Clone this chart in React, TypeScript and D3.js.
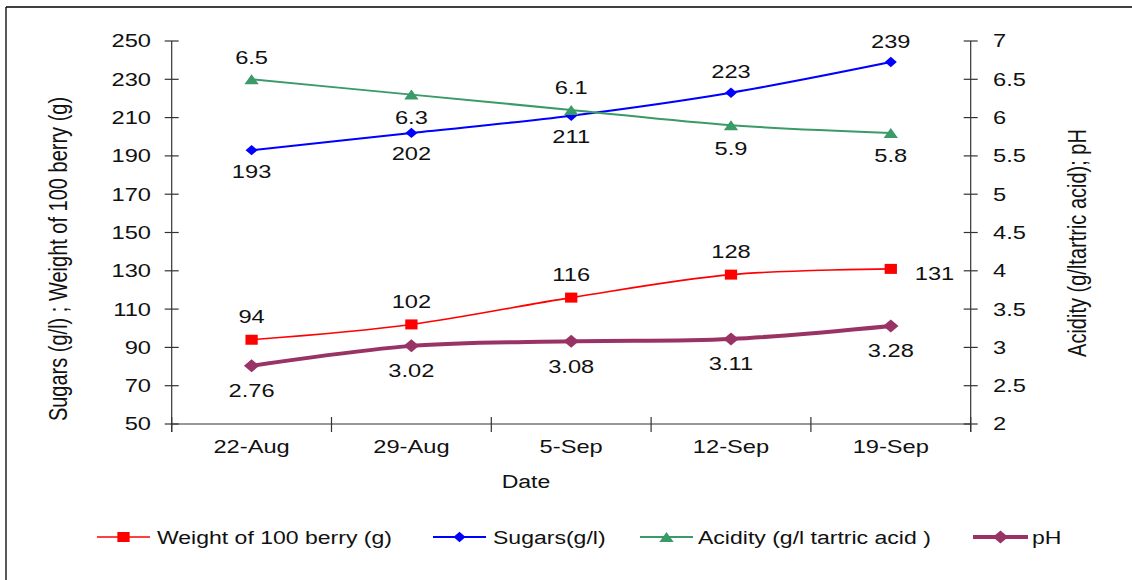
import React from "react";
import * as d3 from "d3";

// Sampling dates and measured values
const dates = ["22-Aug", "29-Aug", "5-Sep", "12-Sep", "19-Sep"];
const berryWeight = [94, 102, 116, 128, 131];
const sugars = [193, 202, 211, 223, 239];
const acidity = [6.5, 6.3, 6.1, 5.9, 5.8];
const ph = [2.76, 3.02, 3.08, 3.11, 3.28];

// Axis ticks
const leftTicks = [50, 70, 90, 110, 130, 150, 170, 190, 210, 230, 250];
const rightTicks = [2, 2.5, 3, 3.5, 4, 4.5, 5, 5.5, 6, 6.5, 7];

// Where each value label sits relative to its marker
const berryLabelPos = ["above", "above", "above", "above", "right"];
const sugarsLabelPos = ["below", "below", "below", "above", "above"];
const acidityLabelPos = ["above", "below", "above", "below", "below"];
const phLabelPos = ["below", "below", "below", "below", "below"];

const W = 1132;
const H = 580;
// horizontal stretch applied to the whole drawing
const SX = 1.28;
const VW = W / SX;
const px = (x: number) => x / SX;

const FONT = "'Liberation Sans', Arial, Helvetica, sans-serif";
const AXIS = "#333";

type Shape = "square" | "diamond" | "bigDiamond" | "triangle";

function markerPath(shape: Shape): string {
  switch (shape) {
    case "square":
      return "M-4.8,-5L4.8,-5L4.8,5L-4.8,5Z";
    case "diamond":
      return "M0,-5.2L4.7,0L0,5.2L-4.7,0Z";
    case "bigDiamond":
      return "M0,-6.5L6,0L0,6.5L-6,0Z";
    case "triangle":
      return "M0,-5L5.6,5L-5.6,5Z";
  }
}

interface Series {
  name: string;
  values: number[];
  axis: "left" | "right";
  color: string;
  width: number;
  shape: Shape;
  fmt: (v: number) => string;
  labelPos: string[];
  above: number;
  below: number;
}

const series: Series[] = [
  {
    name: "Weight of 100 berry (g)",
    values: berryWeight,
    axis: "left",
    color: "#ff0000",
    width: 1.6,
    shape: "square",
    fmt: (v) => d3.format("d")(v),
    labelPos: berryLabelPos,
    above: -23,
    below: 23,
  },
  {
    name: "Sugars(g/l)",
    values: sugars,
    axis: "left",
    color: "#0000ff",
    width: 2,
    shape: "diamond",
    fmt: (v) => d3.format("d")(v),
    labelPos: sugarsLabelPos,
    above: -21,
    below: 21,
  },
  {
    name: "Acidity (g/l tartric acid )",
    values: acidity,
    axis: "right",
    color: "#3a9a68",
    width: 2,
    shape: "triangle",
    fmt: (v) => d3.format(".1f")(v),
    labelPos: acidityLabelPos,
    above: -22,
    below: 23,
  },
  {
    name: "pH",
    values: ph,
    axis: "right",
    color: "#993366",
    width: 4,
    shape: "bigDiamond",
    fmt: (v) => d3.format(".2f")(v),
    labelPos: phLabelPos,
    above: -25,
    below: 25,
  },
];

export default function App() {
  const x0 = px(171.7);
  const x1 = px(970.7);
  const yTop = 41;
  const yBot = 424;

  const band = d3.scaleBand<string>().domain(dates).range([x0, x1]).padding(0);
  const xc = (d: string) => (band(d) as number) + band.bandwidth() / 2;
  const yL = d3.scaleLinear().domain([50, 250]).range([yBot, yTop]);
  const yR = d3.scaleLinear().domain([2, 7]).range([yBot, yTop]);

  const tickHalf = px(7);
  const boundaries = [...dates.map((d) => band(d) as number), x1];

  const legendItems = [
    { lineX: px(97), lineX2: px(150), textX: px(157) },
    { lineX: px(433), lineX2: px(486), textX: px(493) },
    { lineX: px(640), lineX2: px(693), textX: px(698) },
    { lineX: px(973), lineX2: px(1028), textX: px(1032) },
  ];
  const legendY = 537;

  return (
    <div style={{ position: "fixed", left: 0, top: 0, width: W, height: H, background: "#fff" }}>
      <svg
        width={W}
        height={H}
        viewBox={`0 0 ${VW} ${H}`}
        preserveAspectRatio="none"
        style={{ display: "block", fontFamily: FONT }}
      >
        <rect x={0} y={0} width={VW} height={H} fill="#fff" />
        {/* outer frame */}
        <line x1={px(6)} y1={7} x2={VW + 5} y2={7} stroke="#000" strokeWidth={1.3} />
        <line x1={px(6)} y1={7} x2={px(6)} y2={H + 5} stroke="#000" strokeWidth={1.3 / SX} />

        {/* left axis */}
        <line x1={x0} y1={yTop} x2={x0} y2={yBot + 8} stroke={AXIS} strokeWidth={1.2 / SX} />
        {leftTicks.map((t) => (
          <g key={`lt${t}`}>
            <line x1={x0 - tickHalf} x2={x0 + tickHalf} y1={yL(t)} y2={yL(t)} stroke={AXIS} strokeWidth={1.2} />
            <text x={px(151)} y={yL(t)} dy="0.35em" textAnchor="end" fontSize={18.5} fill="#111">
              {t}
            </text>
          </g>
        ))}

        {/* right axis */}
        <line x1={x1} y1={yTop} x2={x1} y2={yBot + 8} stroke={AXIS} strokeWidth={1.2 / SX} />
        {rightTicks.map((t) => (
          <g key={`rt${t}`}>
            <line x1={x1 - tickHalf} x2={x1 + tickHalf} y1={yR(t)} y2={yR(t)} stroke={AXIS} strokeWidth={1.2} />
            <text x={px(993)} y={yR(t)} dy="0.35em" textAnchor="start" fontSize={18.5} fill="#111">
              {d3.format("~g")(t)}
            </text>
          </g>
        ))}

        {/* category axis */}
        <line x1={x0} y1={yBot} x2={x1} y2={yBot} stroke={AXIS} strokeWidth={1.2} />
        {boundaries.map((b, i) => (
          <line key={`bt${i}`} x1={b} x2={b} y1={yBot - 7} y2={yBot + 8} stroke={AXIS} strokeWidth={1.2 / SX} />
        ))}
        {dates.map((d) => (
          <text key={`cl${d}`} x={xc(d)} y={453} textAnchor="middle" fontSize={18.5} fill="#111">
            {d}
          </text>
        ))}

        {/* axis titles */}
        <text x={px(526)} y={488} textAnchor="middle" fontSize={18} fill="#111">
          Date
        </text>
        <text
          transform={`translate(${px(58)},259) rotate(-90)`}
          dy="0.35em"
          textAnchor="middle"
          fontSize={20}
          fill="#111"
        >
          Sugars (g/l) ; Weight of 100 berry (g)
        </text>
        <text
          transform={`translate(${px(1077)},243) rotate(-90)`}
          dy="0.35em"
          textAnchor="middle"
          fontSize={20}
          fill="#111"
        >
          Acidity (g/ltartric acid); pH
        </text>

        {/* series */}
        {series.map((s) => {
          const yS = s.axis === "left" ? yL : yR;
          const pts: [number, number][] = s.values.map((v, i) => [xc(dates[i]), yS(v)]);
          const line = d3.line().curve(d3.curveCardinal.tension(0))(pts) ?? "";
          return (
            <g key={s.name}>
              <path d={line} fill="none" stroke={s.color} strokeWidth={s.width} strokeLinejoin="round" />
              {pts.map(([x, y], i) => (
                <path key={i} d={markerPath(s.shape)} transform={`translate(${x},${y})`} fill={s.color} />
              ))}
            </g>
          );
        })}

        {/* value labels */}
        {series.map((s) => {
          const yS = s.axis === "left" ? yL : yR;
          return s.values.map((v, i) => {
            const x = xc(dates[i]);
            const y = yS(v);
            const pos = s.labelPos[i];
            if (pos === "right") {
              return (
                <text key={`${s.name}${i}`} x={x + px(24)} y={y + 5} dy="0.35em" textAnchor="start" fontSize={18.5} fill="#111">
                  {s.fmt(v)}
                </text>
              );
            }
            const dy = pos === "above" ? s.above : s.below;
            return (
              <text key={`${s.name}${i}`} x={x} y={y + dy} dy="0.35em" textAnchor="middle" fontSize={18.5} fill="#111">
                {s.fmt(v)}
              </text>
            );
          });
        })}

        {/* legend */}
        {series.map((s, i) => {
          const it = legendItems[i];
          const mx = (it.lineX + it.lineX2) / 2;
          return (
            <g key={`lg${s.name}`}>
              <line x1={it.lineX} x2={it.lineX2} y1={legendY} y2={legendY} stroke={s.color} strokeWidth={s.width} />
              <path d={markerPath(s.shape)} transform={`translate(${mx},${legendY})`} fill={s.color} />
              <text x={it.textX} y={544} fontSize={18} fill="#111">
                {s.name}
              </text>
            </g>
          );
        })}
      </svg>
    </div>
  );
}
